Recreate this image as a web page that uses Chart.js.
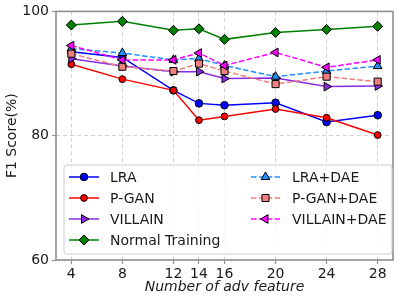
<!DOCTYPE html>
<html>
<head>
<meta charset="utf-8">
<script src="https://cdn.jsdelivr.net/npm/chart.js@4.4.0/dist/chart.umd.min.js"></script>
<style>
  html, body { margin: 0; padding: 0; background: #fff; }
</style>
</head>
<body>
<canvas id="chart" width="399" height="304"></canvas>
<script>
'use strict'

// x positions (number of adversarial features)
const advFeatures = [4, 8, 12, 14, 16, 20, 24, 28];

// F1 score (%) per method
const lra        = [93.5, 92.6, 87.3, 85.2, 84.9, 85.3, 82.2, 83.3];
const pgan       = [91.5, 89.1, 87.3, 82.5, 83.1, 84.3, 82.9, 80.1];
const villain    = [92.4, 91.2, 90.3, 90.3, 89.2, 89.3, 87.9, 88.0];
const normal     = [97.8, 98.4, 96.95, 97.2, 95.5, 96.6, 97.1, 97.6];
const lraDae     = [94.0, 93.3, 92.2, 92.4, 91.3, 89.5, 90.4, 91.2];
const pganDae    = [93.2, 91.1, 90.4, 91.6, 90.4, 88.3, 89.5, 88.7];
const villainDae = [94.5, 92.2, 92.2, 93.3, 91.3, 93.4, 91.0, 92.2];

const yTicks = [60, 80, 100];

const FONT = '"DejaVu Sans", sans-serif';
const DASH = [5.5, 2.4];

const toPoints = (ys) => ys.map((y, i) => ({ x: advFeatures[i], y: y }));

// helper so every series looks the same way
const series = (label, data, color, style, radius, rotation, dashed) => ({
    label: label,
    data: toPoints(data),
    borderColor: color,
    backgroundColor: color,
    borderWidth: 1.5,
    borderDash: dashed ? DASH : [],
    pointStyle: style,
    pointRotation: rotation,
    pointRadius: radius,
    pointHoverRadius: radius,
    pointBackgroundColor: color,
    pointBorderColor: '#000',
    pointBorderWidth: 1,
    tension: 0,
    fill: false,
    clip: false
});

const datasets = [
    series('LRA', lra, '#0000ff', 'circle', 3.8, 0, false),
    series('P-GAN', pgan, '#ff0000', 'circle', 3.4, 0, false),
    series('VILLAIN', villain, '#8a2be2', 'triangle', 5, 90, false),
    series('Normal Training', normal, '#008000', 'rectRot', 5, 0, false),
    series('LRA+DAE', lraDae, '#1e90ff', 'triangle', 5, 0, true),
    series('P-GAN+DAE', pganDae, '#f08080', 'rect', 5, 0, true),
    series('VILLAIN+DAE', villainDae, '#ff00ff', 'triangle', 5, -90, true)
];
// later series on top, like matplotlib
datasets.forEach((d, i) => { d.order = datasets.length - i; });

/******************     FRAME + LEGEND INSIDE THE AXES    ******************/

const framePlugin = {
    id: 'frame',
    afterDatasetsDraw(chart) {
        const { ctx, chartArea: a } = chart;
        ctx.save();
        ctx.strokeStyle = '#8f8f8f';
        ctx.lineWidth = 1.6;
        ctx.strokeRect(a.left, a.top, a.right - a.left, a.bottom - a.top);
        ctx.restore();
    }
};

const legendPlugin = {
    id: 'innerLegend',
    afterDraw(chart) {
        const ctx = chart.ctx;
        const box = { x: 64, y: 165, w: 328, h: 89 };
        ctx.save();
        ctx.beginPath();
        ctx.roundRect(box.x, box.y, box.w, box.h, 3);
        ctx.fillStyle = 'rgba(255,255,255,0.8)';
        ctx.fill();
        ctx.strokeStyle = '#cccccc';
        ctx.lineWidth = 1;
        ctx.stroke();

        const cols = [{ x0: 69, x1: 99, tx: 110 }, { x0: 251, x1: 280, tx: 292 }];
        const rowY = [177, 198, 219, 240];
        ctx.font = '14px ' + FONT;
        ctx.textBaseline = 'middle';
        datasets.forEach((d, i) => {
            const col = cols[i < 4 ? 0 : 1];
            const y = rowY[i < 4 ? i : i - 4];
            ctx.save();
            ctx.strokeStyle = d.borderColor;
            ctx.lineWidth = 1.5;
            ctx.setLineDash(d.borderDash);
            ctx.beginPath();
            ctx.moveTo(col.x0, y);
            ctx.lineTo(col.x1, y);
            ctx.stroke();
            ctx.restore();

            ctx.save();
            ctx.fillStyle = d.pointBackgroundColor;
            ctx.strokeStyle = d.pointBorderColor;
            ctx.lineWidth = 1;
            Chart.helpers.drawPoint(ctx, {
                pointStyle: d.pointStyle,
                rotation: d.pointRotation,
                radius: d.pointRadius,
                borderWidth: 1
            }, (col.x0 + col.x1) / 2, y);
            ctx.restore();

            ctx.fillStyle = '#1a1a1a';
            ctx.fillText(d.label, col.tx, y + 1);
        });
        ctx.restore();
    }
};

/******************     CHART    ******************/

const ctx = document.getElementById('chart');
const chart = new Chart(ctx, {
    type: 'line',
    data: { datasets: datasets },
    options: {
        responsive: false,
        animation: false,
        events: [],
        layout: { padding: { left: 0, right: 6, top: 11, bottom: 0 } },
        plugins: {
            legend: { display: false },
            tooltip: { enabled: false }
        },
        scales: {
            x: {
                type: 'linear',
                min: 2.8,
                max: 29.2,
                afterBuildTicks: (scale) => {
                    scale.ticks = advFeatures.map(v => ({ value: v }));
                },
                afterFit: (scale) => { scale.height = 44; },
                ticks: {
                    autoSkip: false,
                    maxRotation: 0,
                    padding: 2,
                    color: '#1a1a1a',
                    font: { family: FONT, size: 14 }
                },
                grid: {
                    color: '#d3d3d3',
                    lineWidth: 1,
                    tickLength: 4,
                    tickColor: '#8f8f8f',
                    tickWidth: 1.2,
                    tickBorderDash: []
                },
                border: { display: false, dash: [4, 3] },
                title: {
                    display: true,
                    text: 'Number of adv feature',
                    color: '#1a1a1a',
                    padding: { top: 0, bottom: 8 },
                    font: { family: FONT, size: 14, style: 'italic' }
                }
            },
            y: {
                min: 60,
                max: 100,
                afterBuildTicks: (scale) => {
                    scale.ticks = yTicks.map(v => ({ value: v }));
                },
                afterFit: (scale) => { scale.width = 56; },
                ticks: {
                    padding: 3,
                    color: '#1a1a1a',
                    font: { family: FONT, size: 14 }
                },
                grid: {
                    color: '#d3d3d3',
                    lineWidth: 1,
                    tickLength: 4,
                    tickColor: '#8f8f8f',
                    tickWidth: 1.2,
                    tickBorderDash: []
                },
                border: { display: false, dash: [4, 3] },
                title: {
                    display: true,
                    text: 'F1 Score(%)',
                    color: '#1a1a1a',
                    padding: { top: 4, bottom: 0 },
                    font: { family: FONT, size: 14 }
                }
            }
        }
    },
    plugins: [framePlugin, legendPlugin]
});
</script>
</body>
</html>
